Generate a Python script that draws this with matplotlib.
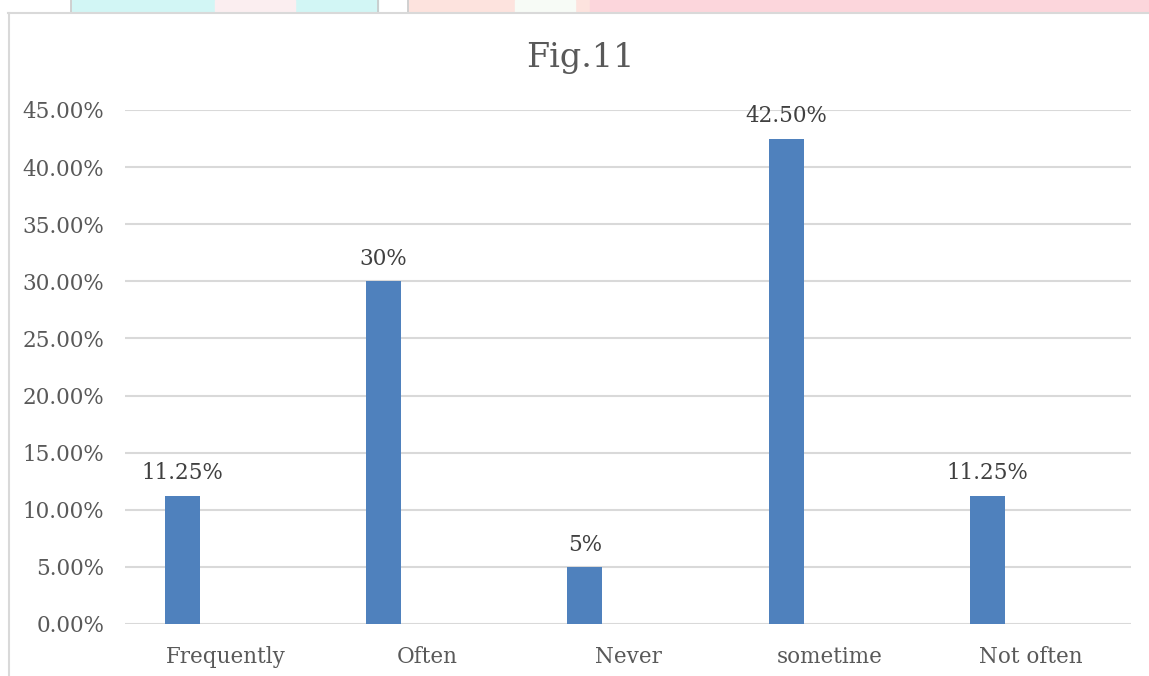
import matplotlib
matplotlib.use("Agg")
import matplotlib.pyplot as plt
from matplotlib.patches import Rectangle
from matplotlib.lines import Line2D
from matplotlib.ticker import FuncFormatter
import numpy as np

categories = ["Frequently", "Often", "Never", "sometime", "Not often"]
values = [11.25, 30, 5, 42.5, 11.25]
value_labels = ["11.25%", "30%", "5%", "42.50%", "11.25%"]
title = "Fig.11"

W, H = 1149, 676
fig = plt.figure(figsize=(W / 100, H / 100), dpi=100)
fig.patch.set_facecolor("white")
plt.rcParams["font.family"] = ["DejaVu Serif"]

def fx(px):
    return px / W

def fy(py):
    return 1 - py / H

# background strip above the chart (page decoration)
strip_bot = 12
for x0, w, c in [(72, 306, "#d2f6f5"), (215, 80, "#fbeef0"), (409, 740, "#fde3de"),
                 (515, 60, "#f7fbf6"), (590, 560, "#fcd6dc")]:
    fig.patches.append(Rectangle((fx(x0), fy(strip_bot)), fx(w), strip_bot / H,
                                 transform=fig.transFigure, color=c, zorder=0))
for xp in (71, 378, 408):
    fig.lines.append(Line2D([fx(xp), fx(xp)], [fy(0), fy(strip_bot)],
                            transform=fig.transFigure, color="#c8c8c8", lw=1.2))

# chart border
fig.lines.append(Line2D([fx(8), fx(1149)], [fy(12.5), fy(12.5)],
                        transform=fig.transFigure, color="#d9d9d9", lw=1.5))
fig.lines.append(Line2D([fx(8.5), fx(8.5)], [fy(12.5), fy(676)],
                        transform=fig.transFigure, color="#d9d9d9", lw=1.5))

# axes
left, right, top, bottom = 125, 1131, 110, 624
ax = fig.add_axes([fx(left), fy(bottom), fx(right - left), (bottom - top) / H])
ax.set_facecolor("none")

x = np.arange(len(categories))
bar_w = 0.174
offset = -0.214
ax.bar(x + offset, values, width=bar_w, color="#4f81bd", zorder=3)

ax.set_xlim(-0.5, len(categories) - 0.5)
ax.set_ylim(0, 45)
ax.set_yticks(np.arange(0, 46, 5))
ax.yaxis.set_major_formatter(FuncFormatter(lambda v, p: f"{v:.2f}%"))
ax.set_xticks(x)
ax.set_xticklabels(categories)
ax.grid(axis="y", color="#d9d9d9", lw=1.5, zorder=0)
for s in ax.spines.values():
    s.set_visible(False)
ax.tick_params(axis="both", length=0, labelsize=15.5, labelcolor="#595959")
ax.tick_params(axis="y", pad=15)
ax.tick_params(axis="x", pad=16)

for xi, v, lab in zip(x + offset, values, value_labels):
    ax.annotate(lab, (xi, v), xytext=(0, 8), textcoords="offset points",
                ha="center", va="bottom", fontsize=15.5, color="#404040")

fig.text(fx(580), fy(58), title, ha="center", va="center", fontsize=24, color="#595959")

fig.savefig("out.png", dpi=100, facecolor="white")
